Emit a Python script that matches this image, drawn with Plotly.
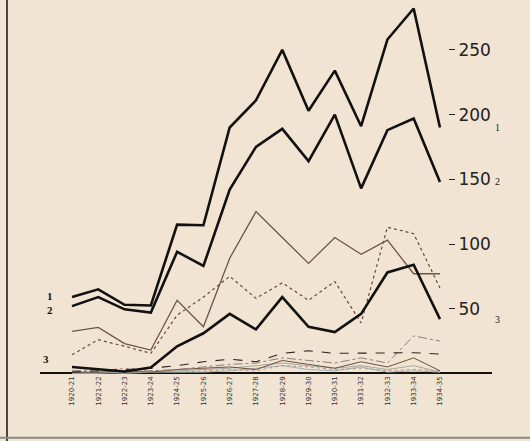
import plotly.graph_objects as go

years = ["1920-21", "1921-22", "1922-23", "1923-24", "1924-25", "1925-26", "1926-27",
         "1927-28", "1928-29", "1929-30", "1930-31", "1931-32", "1932-33", "1933-34", "1934-35"]

series_1 = [59, 65, 53, 52.5, 115, 114.5, 190, 211, 250, 203, 234, 191, 258, 282, 190]
series_2 = [52, 59, 49.5, 47, 94, 83, 142, 175, 189, 164, 200, 143, 188, 197, 148]
series_3 = [5, 3.5, 1.5, 4.5, 21, 31, 46, 34, 59, 36, 32, 46, 78, 84, 42]
brown_solid = [32.5, 35.5, 23, 18, 56.5, 36, 89, 125, 105, 85, 105, 92, 103, 77, 77]
brown_dotted = [14.5, 26, 21, 15.5, 45, 59, 75, 58, 70, 56.5, 71, 39, 113, 108, 66]
minor_a = [1, 2, 3, 4, 6, 9, 11, 9, 15.5, 17.5, 15.5, 15.5, 16, 16, 15]
minor_b = [2, 3, 1, 2, 3, 5, 7, 8, 12, 10, 8, 12, 8, 29, 25]
minor_c = [1, 1, 2, 1, 3, 4, 5, 3, 10, 7, 4, 9, 5, 12, 2]
minor_d = [0, 0, 1, 1, 2, 3, 4, 6, 8, 6, 4, 6, 3, 6, 1]
minor_e = [1, 2, 4, 2, 1, 2, 3, 2, 6, 5, 3, 4, 2, 3, 2]
minor_f = [0, 1, 0, 1, 1, 1, 2, 4, 6, 3, 2, 5, 1, 2, 1]

y_ticks = [50, 100, 150, 200, 250]

x = list(range(len(years)))
fig = go.Figure()

def add(vals, color, width, dash="solid"):
    fig.add_trace(go.Scatter(x=x, y=vals, mode="lines",
                             line=dict(color=color, width=width, dash=dash),
                             showlegend=False, hoverinfo="skip"))

add(minor_f, "#9fb0b8", 1)
add(minor_e, "#b59a80", 1, "dot")
add(minor_d, "#a8a8a0", 1)
add(minor_c, "#6b5040", 1)
add(minor_b, "#8a8078", 1, "dashdot")
add(minor_a, "#2a2420", 1.1, "dash")
add(brown_dotted, "#6a4a38", 1.2, "dot")
add(brown_solid, "#6e5446", 1.3)
add(series_3, "#111111", 2.6)
add(series_2, "#111111", 2.6)
add(series_1, "#111111", 2.6)

bg = "#f2e4d3"
fig.update_layout(
    width=530, height=441,
    margin=dict(l=40, r=38, t=2, b=65),
    paper_bgcolor=bg, plot_bgcolor=bg,
    xaxis=dict(range=[-1.217, 15.98], tickmode="array", tickvals=x, ticktext=years,
               tickangle=-90, tickfont=dict(family="DejaVu Sans", size=7, color="#333"),
               showgrid=False, zeroline=False, showline=False, ticks="",
               automargin=False, ticklabelstandoff=-2),
    yaxis=dict(range=[-2, 287], side="right", anchor="free", position=0.9027,
               tickmode="array", tickvals=y_ticks, ticks="outside", ticklen=6,
               tickcolor="#222", tickwidth=1.2, showline=False, showgrid=False,
               zeroline=True, zerolinecolor="#111", zerolinewidth=1.6, automargin=False,
               tickfont=dict(family="DejaVu Sans", size=17, color="#222")),
)

# left border of scan
fig.add_shape(type="line", xref="paper", yref="paper", x0=-0.073, x1=-0.073, y0=-0.18, y1=1.01,
              line=dict(color="#111", width=1.5))
fig.add_shape(type="line", xref="paper", yref="paper", x0=-0.09, x1=1.09, y0=-0.165, y1=-0.165,
              line=dict(color="#8a8a8a", width=2))

lab_font = dict(family="Liberation Serif", size=11, color="#111")
for txt, yy in [("1", 60), ("2", 49)]:
    fig.add_annotation(x=-0.85, y=yy, xref="x", yref="y", text=f"<b>{txt}</b>", showarrow=False, font=lab_font)
fig.add_annotation(x=-1.0, y=11, xref="x", yref="y", text="<b>3</b>", showarrow=False, font=lab_font)
for txt, yy in [("1", 190), ("2", 148), ("3", 42)]:
    fig.add_annotation(x=1.022, y=yy, xref="paper", yref="y", text=txt, showarrow=False,
                       font=dict(family="Liberation Serif", size=10, color="#222"))

fig.write_html("out.html", post_script="document.body.style.margin='0';",
               config={"displayModeBar": False})
